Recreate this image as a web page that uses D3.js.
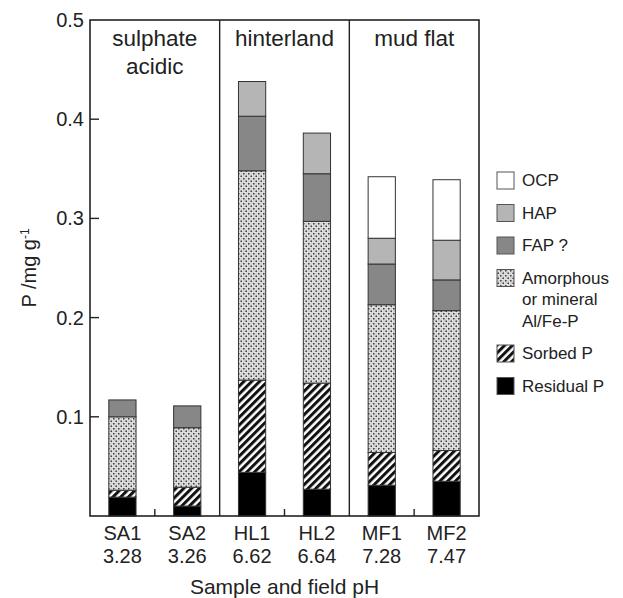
<!DOCTYPE html>
<html>
<head>
<meta charset="utf-8">
<script src="https://cdn.jsdelivr.net/npm/d3@7"></script>
<style>
  body { margin: 0; background: #fff; }
  svg { display: block; font-family: "Liberation Sans", Arial, sans-serif; }
</style>
</head>
<body>
<div id="chart"></div>
<script>
// Samples and field pH
const samples = ["SA1", "SA2", "HL1", "HL2", "MF1", "MF2"];
const fieldPH = ["3.28", "3.26", "6.62", "6.64", "7.28", "7.47"];
const groups = [["sulphate", "acidic"], ["hinterland"], ["mud flat"]];

// P fractions, mg/g (bottom to top of each stack)
const residualP = [0.019, 0.010, 0.044, 0.027, 0.031, 0.035];
const sorbedP   = [0.007, 0.019, 0.093, 0.107, 0.033, 0.031];
const amorphP   = [0.074, 0.060, 0.211, 0.163, 0.149, 0.141];
const fapP      = [0.017, 0.022, 0.055, 0.048, 0.041, 0.031];
const hapP      = [0.000, 0.000, 0.035, 0.041, 0.026, 0.040];
const ocpP      = [0.000, 0.000, 0.000, 0.000, 0.062, 0.061];

const yTicks = [0.1, 0.2, 0.3, 0.4, 0.5];

const keys = ["residual", "sorbed", "amorph", "fap", "hap", "ocp"];
const table = samples.map((s, i) => ({
  sample: s, residual: residualP[i], sorbed: sorbedP[i], amorph: amorphP[i],
  fap: fapP[i], hap: hapP[i], ocp: ocpP[i]
}));

const W = 623, H = 598;
const margin = { top: 20, left: 90, right: 144, bottom: 82 };
const plotW = W - margin.left - margin.right;
const plotH = H - margin.top - margin.bottom;

const svg = d3.select("#chart").append("svg")
  .attr("width", W).attr("height", H);

// patterns
const defs = svg.append("defs");
const dots = defs.append("pattern")
  .attr("id", "dots").attr("patternUnits", "userSpaceOnUse")
  .attr("width", 5).attr("height", 5);
dots.append("rect").attr("width", 5).attr("height", 5).attr("fill", "#d4d4d4");
[[1.25, 1.25], [3.75, 3.75]].forEach(p => {
  dots.append("circle").attr("cx", p[0]).attr("cy", p[1]).attr("r", 1.6).attr("fill", "#fafafa");
  dots.append("circle").attr("cx", p[0]).attr("cy", p[1]).attr("r", 1.0).attr("fill", "#444");
});
const stripes = defs.append("pattern")
  .attr("id", "stripes").attr("patternUnits", "userSpaceOnUse")
  .attr("width", 5.5).attr("height", 5.5)
  .attr("patternTransform", "rotate(45)");
stripes.append("rect").attr("width", 5.5).attr("height", 5.5).attr("fill", "#fff");
stripes.append("rect").attr("width", 3).attr("height", 5.5).attr("fill", "#111");

const fills = {
  residual: "#000", sorbed: "url(#stripes)", amorph: "url(#dots)",
  fap: "#878787", hap: "#b5b5b5", ocp: "#fff"
};

const g = svg.append("g").attr("transform", `translate(${margin.left},${margin.top})`);

const x = d3.scaleBand().domain(samples).range([0, plotW])
  .paddingInner(0.58).paddingOuter(0.29);
const y = d3.scaleLinear().domain([0, 0.5]).range([plotH, 0]);

const series = d3.stack().keys(keys)(table);

// bars
g.selectAll(".layer")
  .data(series)
  .enter().append("g")
  .attr("class", "layer")
  .attr("fill", d => fills[d.key])
  .selectAll("rect")
  .data(d => d.filter(v => v[1] - v[0] > 0))
  .enter().append("rect")
  .attr("x", d => x(d.data.sample))
  .attr("width", x.bandwidth())
  .attr("y", d => y(d[1]))
  .attr("height", d => y(d[0]) - y(d[1]))
  .attr("stroke", "#333")
  .attr("stroke-width", 1);

// frame
g.append("rect")
  .attr("width", plotW).attr("height", plotH)
  .attr("fill", "none").attr("stroke", "#222").attr("stroke-width", 1.6);

// group separators and minor ticks
const mid = (a, b) => (x(a) + x.bandwidth() + x(b)) / 2;
[[1, 2], [3, 4]].forEach(([a, b]) => {
  const sx = mid(samples[a], samples[b]);
  g.append("line").attr("x1", sx).attr("x2", sx).attr("y1", 0).attr("y2", plotH)
    .attr("stroke", "#222").attr("stroke-width", 1.4);
});
[[0, 1], [2, 3], [4, 5]].forEach(([a, b]) => {
  const tx = mid(samples[a], samples[b]);
  g.append("line").attr("x1", tx).attr("x2", tx).attr("y1", plotH).attr("y2", plotH - 7)
    .attr("stroke", "#222").attr("stroke-width", 1.4);
});

// y axis ticks (inward)
const yAxis = g.append("g");
yAxis.selectAll("line")
  .data(yTicks.filter(t => t < 0.5))
  .enter().append("line")
  .attr("x1", 0).attr("x2", 9)
  .attr("y1", d => y(d)).attr("y2", d => y(d))
  .attr("stroke", "#222").attr("stroke-width", 1.4);
yAxis.selectAll("text")
  .data(yTicks)
  .enter().append("text")
  .attr("x", -6).attr("y", d => y(d)).attr("dy", "0.35em")
  .attr("text-anchor", "end")
  .style("font-size", "20px").style("fill", "#222")
  .text(d => d.toFixed(1));

// y title
const yt = svg.append("text")
  .attr("transform", `translate(36,${margin.top + plotH / 2}) rotate(-90)`)
  .attr("text-anchor", "middle")
  .style("font-size", "20px").style("fill", "#222");
yt.append("tspan").text("P /mg g");
yt.append("tspan").attr("dy", "-0.55em").style("font-size", "12px").text("-1");

// category labels
samples.forEach((s, i) => {
  const cx = x(s) + x.bandwidth() / 2;
  g.append("text").attr("x", cx).attr("y", plotH + 24)
    .attr("text-anchor", "middle").style("font-size", "20px").style("fill", "#222").text(s);
  g.append("text").attr("x", cx).attr("y", plotH + 47)
    .attr("text-anchor", "middle").style("font-size", "20px").style("fill", "#222").text(fieldPH[i]);
});

// x title
g.append("text").attr("x", plotW / 2).attr("y", plotH + 78)
  .attr("text-anchor", "middle").style("font-size", "21px").style("fill", "#222")
  .text("Sample and field pH");

// group headers
groups.forEach((lines, i) => {
  const cx = (x(samples[i * 2]) + x(samples[i * 2 + 1]) + x.bandwidth()) / 2;
  lines.forEach((t, j) => {
    g.append("text").attr("x", cx).attr("y", 26 + j * 28)
      .attr("text-anchor", "middle").style("font-size", "22.5px").style("fill", "#222").text(t);
  });
});

// legend
const legendItems = [
  { key: "ocp", lines: ["OCP"] },
  { key: "hap", lines: ["HAP"] },
  { key: "fap", lines: ["FAP ?"] },
  { key: "amorph", lines: ["Amorphous", "or mineral", "Al/Fe-P"] },
  { key: "sorbed", lines: ["Sorbed P"] },
  { key: "residual", lines: ["Residual P"] }
];
const legend = svg.append("g").attr("transform", "translate(497,172)");
let ly = 0;
legendItems.forEach(item => {
  legend.append("rect").attr("x", 0).attr("y", ly).attr("width", 17).attr("height", 17)
    .attr("fill", fills[item.key]).attr("stroke", "#555").attr("stroke-width", 1);
  item.lines.forEach((t, j) => {
    legend.append("text").attr("x", 25).attr("y", ly + 8.5 + j * 21.5).attr("dy", "0.35em")
      .style("font-size", "17px").style("fill", "#222").text(t);
  });
  ly += 32.5 + (item.lines.length - 1) * 21.5;
});
</script>
</body>
</html>
